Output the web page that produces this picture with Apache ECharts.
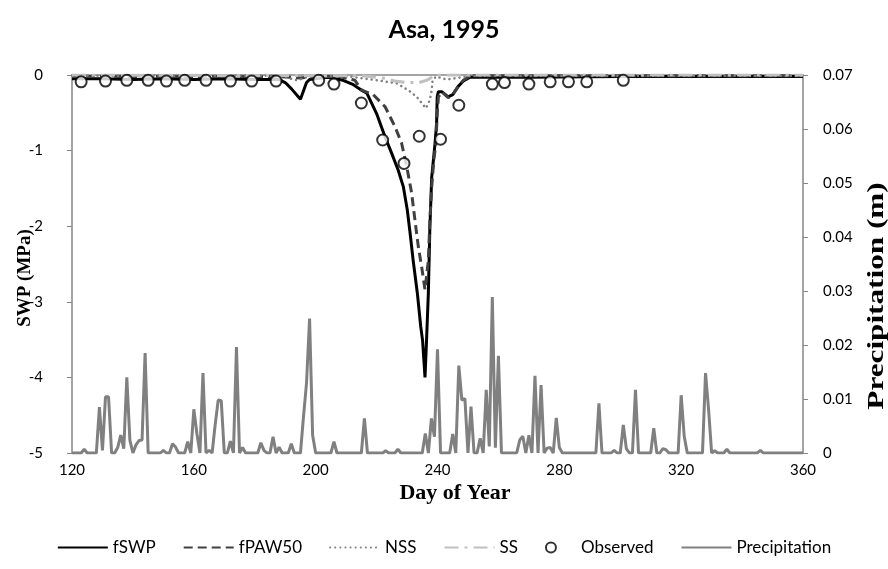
<!DOCTYPE html>
<html>
<head>
<meta charset="utf-8">
<title>Asa, 1995</title>
<script src="https://cdn.jsdelivr.net/npm/echarts@6/dist/echarts.min.js"></script>
<style>
  html, body { margin: 0; padding: 0; background: #fff; }
  #chart { width: 888px; height: 569px; }
</style>
</head>
<body>
<div id="chart"></div>
<script>
// Soil water potential (MPa) by day of year, [day, value]
const fSWP = [
  [120,-0.05],[130,-0.05],[140,-0.06],[150,-0.05],[160,-0.06],[170,-0.05],[180,-0.06],[188,-0.06],
  [190,-0.1],[192,-0.18],[195,-0.32],[197,-0.1],[198,-0.06],[204,-0.03],[209,-0.07],[212,-0.12],
  [214.6,-0.19],[216.8,-0.24],[220,-0.51],[222.8,-0.82],[225,-1.04],[227.1,-1.26],[228.8,-1.48],
  [230.1,-1.79],[231,-2.09],[232,-2.45],[233.4,-2.89],[234.5,-3.33],[235.1,-3.51],[235.9,-4.0],
  [236.4,-3.51],[237,-2.88],[237.5,-2.01],[238.1,-1.35],[239.2,-0.9],[239.7,-0.64],[239.9,-0.29],
  [240.3,-0.22],[241.4,-0.22],[243.5,-0.29],[245,-0.26],[246.8,-0.15],[248.5,-0.08],[250.7,-0.03],
  [270,-0.03],[300,-0.02],[360,-0.02]
];
const fPAW50 = [
  [120,-0.02],[188,-0.02],[195,-0.04],[200,-0.02],[208,-0.02],[212.9,-0.07],[215.1,-0.2],
  [218.9,-0.26],[222.8,-0.42],[226,-0.68],[228.2,-0.9],[229.9,-1.21],[231.5,-1.56],[232.6,-1.92],
  [233.7,-2.27],[234.8,-2.54],[235.9,-2.84],[237,-2.45],[237.5,-1.92],[238.1,-1.48],[238.8,-1.12],
  [239.5,-0.9],[239.9,-0.51],[240.3,-0.29],[241.4,-0.22],[243.5,-0.3],[245,-0.26],[246.8,-0.15],
  [248.5,-0.07],[250.7,-0.01],[360,-0.01]
];
const NSS = [
  [120,-0.01],[186,-0.01],[190,-0.03],[194,-0.07],[197,-0.03],[200,-0.01],[211.3,-0.02],[220,-0.07],
  [226.6,-0.11],[230.4,-0.2],[233.2,-0.29],[236.2,-0.44],[237.5,-0.33],[238.1,-0.2],[238.4,-0.07],
  [239.5,-0.02],[243,-0.06],[248,-0.03],[252,-0.01],[360,-0.01]
];
const SS = [
  [120,0],[215,-0.01],[222,-0.04],[226,-0.08],[230,-0.1],[234,-0.1],[236.5,-0.07],[238.5,-0.02],
  [240,0],[360,0]
];

// Measured soil water potential
const obsDays = [123,131,138,145,151,157,164,172,179,187,201,206,215,222,229,234,241,247,258,262,270,277,283,289,301];
const obsVals = [-0.09,-0.08,-0.07,-0.07,-0.08,-0.07,-0.07,-0.08,-0.08,-0.08,-0.07,-0.12,-0.37,-0.86,-1.17,-0.81,-0.85,-0.4,-0.12,-0.1,-0.12,-0.09,-0.09,-0.09,-0.07];

// Daily precipitation (m); days not listed had none
const rainDays = [124,129,130,131,132,135,136,137,138,139,141,142,143,144,150,153,154,158,160,161,163,165,
  167,168,169,172,174,176,182,183,186,188,192,196,197,198,199,206,216,223,227,236,238,239,240,
  245,247,248,249,251,254,256,257,258,259,260,267,268,270,272,274,276,277,279,280,293,298,301,302,
  305,311,314,315,320,321,328,329,331,335,346];
const rainAmts = [0.0007,0.0085,0.0005,0.0104,0.0104,0.001,0.0033,0.0008,0.014,0.0024,0.0015,0.0023,0.0024,0.0185,
  0.0005,0.0017,0.0011,0.0021,0.0081,0.0036,0.0148,0.0005,
  0.0052,0.0098,0.0097,0.0022,0.0196,0.001,0.0019,0.0005,0.003,0.0011,0.0017,0.0067,0.013,0.0249,0.0033,
  0.0021,0.0064,0.0004,0.0007,0.0036,0.0064,0.003,0.0192,
  0.0035,0.0162,0.0098,0.0101,0.0086,0.0027,0.0117,0.0012,0.0289,0.001,0.018,0.0024,0.0031,0.0033,
  0.0143,0.0126,0.0009,0.001,0.0065,0.001,0.0092,0.0005,0.0052,0.0008,
  0.0117,0.0046,0.0008,0.0006,0.0107,0.0031,0.0148,0.0081,0.0004,0.0007,0.0005];

const firstDay = 120, lastDay = 360;
const xTicks = 40;

const rainByDay = {};
rainDays.forEach((d, i) => { rainByDay[d] = rainAmts[i]; });
const precipitation = [];
for (let d = firstDay; d <= lastDay; d++) {
  precipitation.push([d, rainByDay[d] || 0]);
}
const observed = obsDays.map((d, i) => [d, obsVals[i]]);

const uiFont = 'Lato';
const serifFont = 'Liberation Serif';
const axisGray = '#868686';

// Line-only legend entries: hide the marker ECharts puts in the middle of the line
const lineOnly = name => ({ name, itemStyle: { opacity: 0 } });

const chart = echarts.init(document.getElementById('chart'), null, { renderer: 'canvas' });
chart.setOption({
  animation: false,
  backgroundColor: '#fff',
  title: {
    text: 'Asa, 1995',
    left: 'center',
    top: 12,
    textStyle: { fontFamily: uiFont, fontWeight: 'bold', fontSize: 25, color: '#000' }
  },
  legend: {
    bottom: 8,
    left: 'center',
    itemWidth: 50,
    itemHeight: 10,
    itemGap: 27,
    textStyle: { fontFamily: uiFont, fontSize: 17, color: '#000' },
    data: [lineOnly('fSWP'), lineOnly('fPAW50'), lineOnly('NSS'), lineOnly('SS'), 'Observed', lineOnly('Precipitation')]
  },
  grid: { left: 72, right: 85, top: 75, bottom: 116 },
  graphic: [
    {
      type: 'text', x: 455, y: 493,
      style: { text: 'Day of Year', fontFamily: serifFont, fontWeight: 'bold', fontSize: 22,
               fill: '#000', align: 'center', verticalAlign: 'middle' }
    },
    {
      type: 'text', x: 25, y: 278, rotation: Math.PI / 2,
      style: { text: 'SWP (MPa)', fontFamily: serifFont, fontWeight: 'bold', fontSize: 19,
               fill: '#000', align: 'center', verticalAlign: 'middle' }
    },
    {
      type: 'text', x: 877, y: 296, rotation: Math.PI / 2, scaleX: 1.3,
      style: { text: 'Precipitation (m)', fontFamily: serifFont, fontWeight: 'bold', fontSize: 24,
               fill: '#000', align: 'center', verticalAlign: 'middle' }
    }
  ],
  xAxis: {
    type: 'value',
    min: firstDay,
    max: lastDay,
    interval: xTicks,
    axisLine: { lineStyle: { color: axisGray, width: 1.5 } },
    axisTick: { show: false },
    axisLabel: { fontFamily: uiFont, fontSize: 15, color: '#000', margin: 10 },
    splitLine: { show: false }
  },
  yAxis: [
    {
      type: 'value',
      min: -5,
      max: 0,
      interval: 1,
      axisLine: { show: true, lineStyle: { color: axisGray, width: 1.5 } },
      axisTick: { show: true, length: 5, lineStyle: { color: axisGray } },
      axisLabel: { fontFamily: uiFont, fontSize: 15, color: '#000', margin: 29 },
      splitLine: { show: false }
    },
    {
      type: 'value',
      position: 'right',
      min: 0,
      max: 0.07,
      interval: 0.01,
      axisLine: { show: true, lineStyle: { color: axisGray, width: 1.5 } },
      axisTick: { show: true, length: 5, lineStyle: { color: axisGray } },
      axisLabel: {
        fontFamily: uiFont, fontSize: 15, color: '#000', margin: 20,
        formatter: v => String(+v.toFixed(2))
      },
      splitLine: { show: false }
    }
  ],
  series: [
    {
      name: 'Precipitation',
      type: 'line',
      yAxisIndex: 1,
      data: precipitation,
      symbol: 'none',
      z: 1,
      lineStyle: { color: '#808080', width: 3 },
      itemStyle: { color: '#808080' }
    },
    {
      name: 'fSWP',
      type: 'line',
      data: fSWP,
      symbol: 'none',
      z: 2,
      lineStyle: { color: '#000', width: 3 },
      itemStyle: { color: '#000' }
    },
    {
      name: 'fPAW50',
      type: 'line',
      data: fPAW50,
      symbol: 'none',
      z: 3,
      lineStyle: { color: '#404040', width: 3, type: [9, 5] },
      itemStyle: { color: '#404040' }
    },
    {
      name: 'NSS',
      type: 'line',
      data: NSS,
      symbol: 'none',
      z: 4,
      lineStyle: { color: '#808080', width: 2.5, type: [0.1, 5], cap: 'round' },
      itemStyle: { color: '#808080' }
    },
    {
      name: 'SS',
      type: 'line',
      data: SS,
      symbol: 'none',
      z: 5,
      lineStyle: { color: '#c0c0c0', width: 3, type: [14, 6, 3, 6] },
      itemStyle: { color: '#c0c0c0' }
    },
    {
      name: 'Observed',
      type: 'scatter',
      data: observed,
      symbol: 'circle',
      symbolSize: 11,
      z: 6,
      itemStyle: { color: '#fff', borderColor: '#000', borderWidth: 2 }
    }
  ]
});
</script>
</body>
</html>
